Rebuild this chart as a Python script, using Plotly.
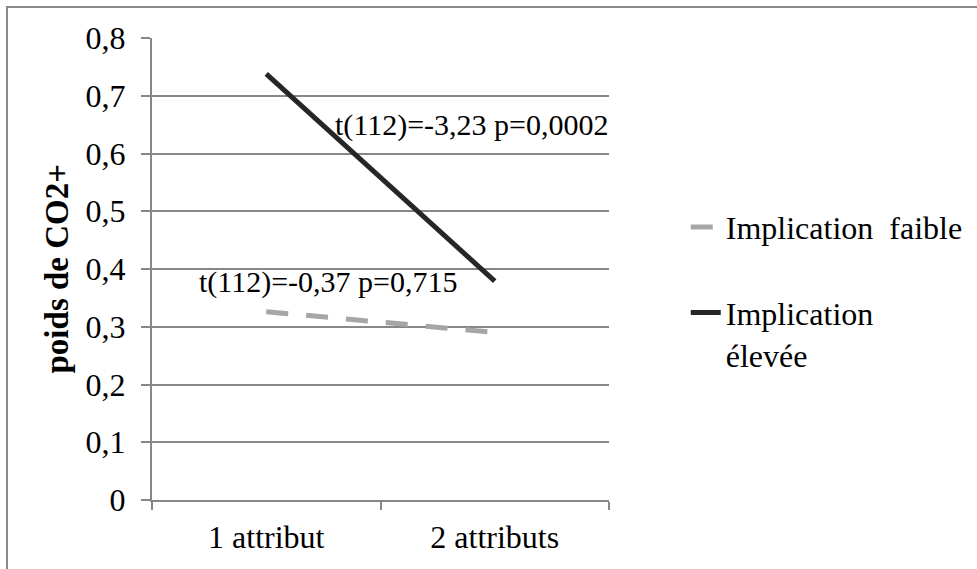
import plotly.graph_objects as go

categories = ["1 attribut", "2 attributs"]
faible = [0.326, 0.290]
elevee = [0.738, 0.379]
series_names = ["Implication  faible", "Implication<br>élevée"]
ann_elevee = "t(112)=-3,23 p=0,0002"
ann_faible = "t(112)=-0,37 p=0,715"
y_title = "poids de CO2+"

FONT = "Times New Roman"
GRID = "#878787"

fig = go.Figure()
fig.add_trace(go.Scatter(
    x=categories, y=faible, mode="lines", name=series_names[0],
    legendgroup="a",
    line=dict(color="#a6a6a6", width=5, dash="22px,18px"),
))
fig.add_trace(go.Scatter(
    x=categories, y=elevee, mode="lines", name=series_names[1],
    legendgroup="b",
    line=dict(color="#262626", width=5),
))

fig.add_annotation(x=0.293, y=0.65, xref="x", yref="y", text=ann_elevee,
                   showarrow=False, xanchor="left", yanchor="middle",
                   font=dict(family=FONT, size=30, color="black"))
fig.add_annotation(x=-0.302, y=0.377, xref="x", yref="y", text=ann_faible,
                   showarrow=False, xanchor="left", yanchor="middle",
                   font=dict(family=FONT, size=30, color="black"))
fig.add_annotation(x=-0.208, y=0.501, xref="paper", yref="paper", text="<b>" + y_title + "</b>",
                   showarrow=False, textangle=-90, xanchor="center", yanchor="middle",
                   font=dict(family=FONT, size=33, color="black"))

# outer chart border (top and left visible)
fig.add_shape(type="rect", xref="paper", yref="paper",
              x0=-0.3173, x1=1.9, y0=-0.5, y1=1.067,
              line=dict(color="#8a8a8a", width=2), layer="below")

fig.update_layout(
    width=977, height=569,
    margin=dict(l=152, r=368, t=38, b=69, autoexpand=False),
    paper_bgcolor="white", plot_bgcolor="white",
    separators=", ",
    font=dict(family=FONT, size=32, color="black"),
    showlegend=True,
    legend=dict(x=1.168, y=0.65, xanchor="left", yanchor="top",
                font=dict(family=FONT, size=32, color="black"),
                tracegroupgap=41, valign="top", bgcolor="rgba(0,0,0,0)"),
)
fig.update_xaxes(
    type="category", range=[-0.5, 1.5], autorange=False,
    tickson="boundaries", ticks="outside", ticklen=8,
    tickcolor=GRID, tickwidth=2, showline=True, linecolor=GRID, linewidth=2,
    showgrid=False, ticklabelstandoff=8, fixedrange=True,
    tickfont=dict(family=FONT, size=32, color="black"),
)
fig.update_yaxes(
    range=[0, 0.8], autorange=False, dtick=0.1, tick0=0, ticks="outside", ticklen=9,
    tickcolor=GRID, tickwidth=2, showline=True, linecolor=GRID, linewidth=2,
    showgrid=True, gridcolor=GRID, gridwidth=2, zeroline=False,
    ticklabelstandoff=9, fixedrange=True,
    tickfont=dict(family=FONT, size=32, color="black"),
)

fig.write_html("out.html", config={"displayModeBar": False},
               post_script="document.body.style.margin='0';")
